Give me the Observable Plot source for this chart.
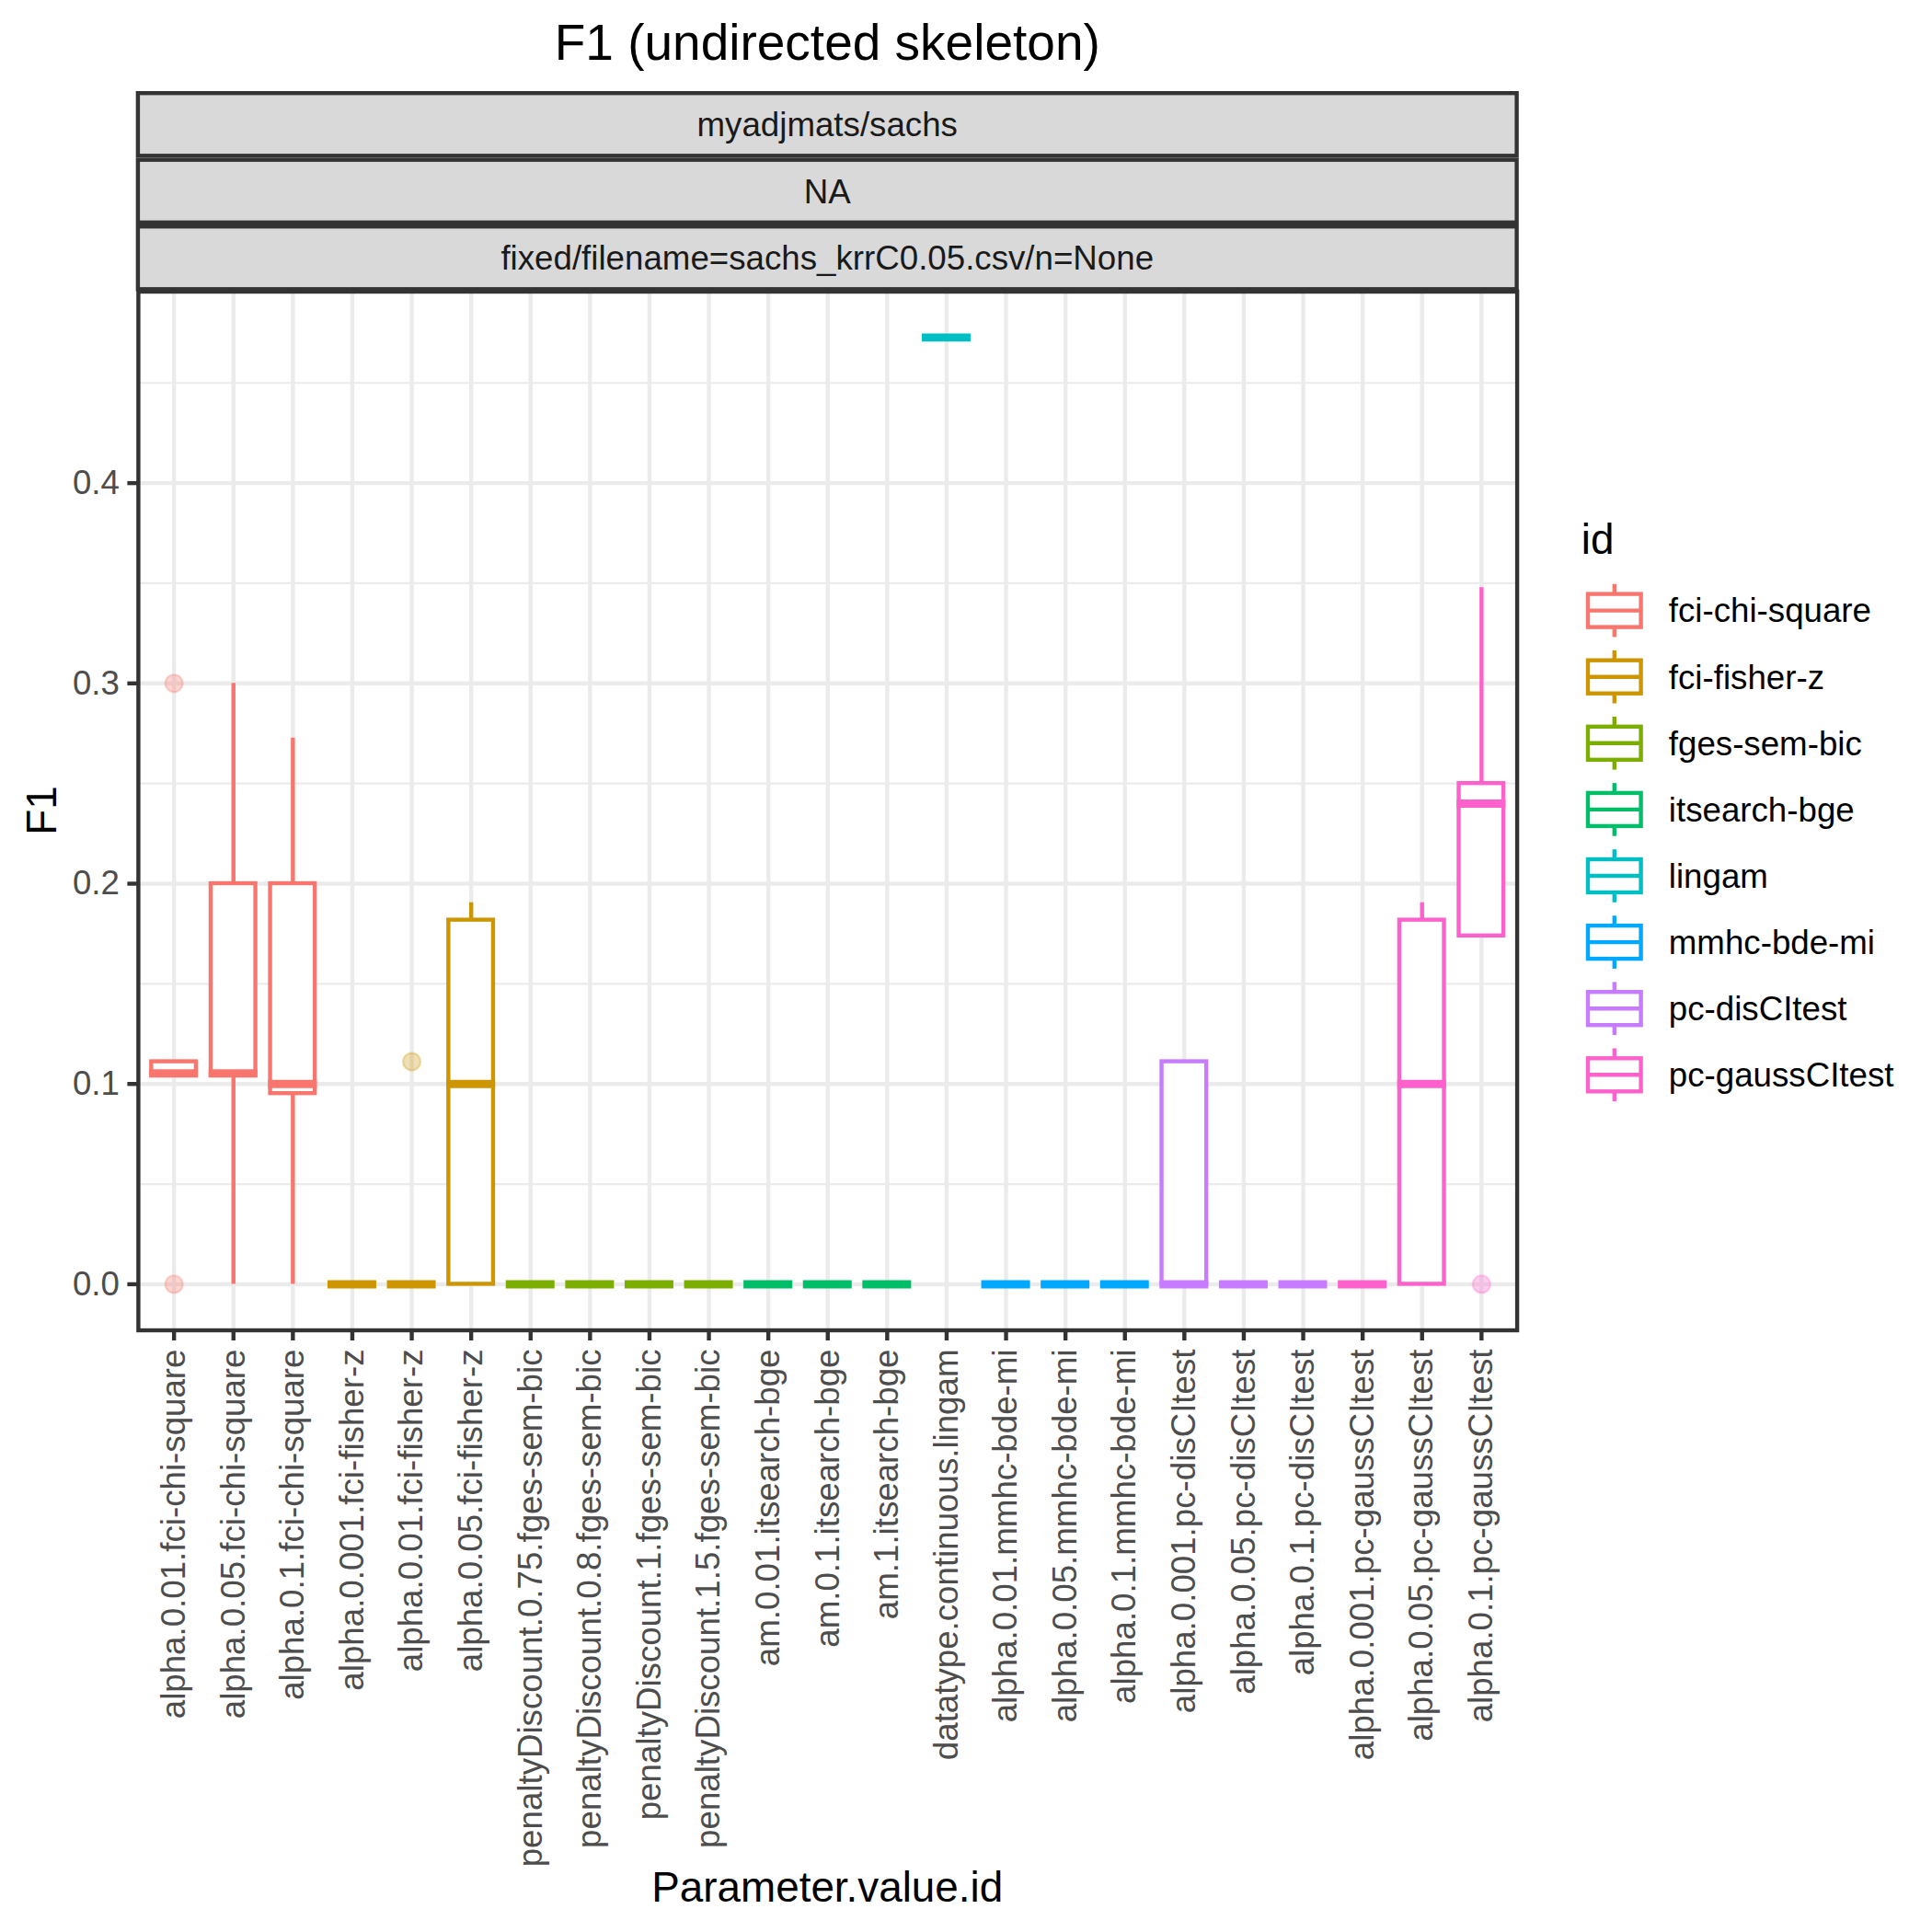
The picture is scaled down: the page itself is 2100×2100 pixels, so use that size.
<!DOCTYPE html>
<html>
<head>
<meta charset="utf-8">
<script src="https://cdn.jsdelivr.net/npm/d3@7"></script>
<script src="https://cdn.jsdelivr.net/npm/@observablehq/plot@0.6"></script>
<style>
  html, body { margin: 0; padding: 0; background: #ffffff; }
  #chart { width: 2100px; height: 2100px; }
</style>
</head>
<body>
<div id="chart"></div>
<script>
// ---------------- DATA ----------------
const params = [
  "alpha.0.01.fci-chi-square", "alpha.0.05.fci-chi-square", "alpha.0.1.fci-chi-square",
  "alpha.0.001.fci-fisher-z", "alpha.0.01.fci-fisher-z", "alpha.0.05.fci-fisher-z",
  "penaltyDiscount.0.75.fges-sem-bic", "penaltyDiscount.0.8.fges-sem-bic",
  "penaltyDiscount.1.fges-sem-bic", "penaltyDiscount.1.5.fges-sem-bic",
  "am.0.01.itsearch-bge", "am.0.1.itsearch-bge", "am.1.itsearch-bge",
  "datatype.continuous.lingam",
  "alpha.0.01.mmhc-bde-mi", "alpha.0.05.mmhc-bde-mi", "alpha.0.1.mmhc-bde-mi",
  "alpha.0.001.pc-disCItest", "alpha.0.05.pc-disCItest", "alpha.0.1.pc-disCItest",
  "alpha.0.001.pc-gaussCItest", "alpha.0.05.pc-gaussCItest", "alpha.0.1.pc-gaussCItest"
];
const paramIds = [
  "fci-chi-square", "fci-chi-square", "fci-chi-square",
  "fci-fisher-z", "fci-fisher-z", "fci-fisher-z",
  "fges-sem-bic", "fges-sem-bic", "fges-sem-bic", "fges-sem-bic",
  "itsearch-bge", "itsearch-bge", "itsearch-bge",
  "lingam",
  "mmhc-bde-mi", "mmhc-bde-mi", "mmhc-bde-mi",
  "pc-disCItest", "pc-disCItest", "pc-disCItest",
  "pc-gaussCItest", "pc-gaussCItest", "pc-gaussCItest"
];
const q1Values      = [0.1043, 0.1043, 0.0952, 0, 0, 0,      0, 0, 0, 0, 0, 0, 0, 0.4727, 0, 0, 0, 0,      0, 0, 0, 0,      0.1739];
const medianValues  = [0.1053, 0.1053, 0.1000, 0, 0, 0.1000, 0, 0, 0, 0, 0, 0, 0, 0.4727, 0, 0, 0, 0,      0, 0, 0, 0.1000, 0.2400];
const q3Values      = [0.1111, 0.2000, 0.2000, 0, 0, 0.1818, 0, 0, 0, 0, 0, 0, 0, 0.4727, 0, 0, 0, 0.1111, 0, 0, 0, 0.1818, 0.2500];
const whiskerLow    = [0.1043, 0,      0,      0, 0, 0,      0, 0, 0, 0, 0, 0, 0, 0.4727, 0, 0, 0, 0,      0, 0, 0, 0,      0.1739];
const whiskerHigh   = [0.1111, 0.3000, 0.2727, 0, 0, 0.1905, 0, 0, 0, 0, 0, 0, 0, 0.4727, 0, 0, 0, 0.1111, 0, 0, 0, 0.1905, 0.3478];

const outlierParams = ["alpha.0.01.fci-chi-square", "alpha.0.01.fci-chi-square", "alpha.0.01.fci-fisher-z", "alpha.0.1.pc-gaussCItest"];
const outlierValues = [0.3000, 0, 0.1111, 0];

const ids = ["fci-chi-square", "fci-fisher-z", "fges-sem-bic", "itsearch-bge", "lingam", "mmhc-bde-mi", "pc-disCItest", "pc-gaussCItest"];
const idColors = ["#F8766D", "#CD9600", "#7CAE00", "#00BE67", "#00BFC4", "#00A9FF", "#C77CFF", "#FF61CC"];

const yTicks = [0, 0.1, 0.2, 0.3, 0.4];
const yMinorTicks = [0.05, 0.15, 0.25, 0.35, 0.45];
const yDomain = [-0.0230, 0.4956];

const chartTitle = "F1 (undirected skeleton)";
const stripLabels = ["myadjmats/sachs", "NA", "fixed/filename=sachs_krrC0.05.csv/n=None"];
const xTitle = "Parameter.value.id";
const yTitle = "F1";
const legendTitle = "id";

// ---------------- TABLES ----------------
const stats = params.map((p, i) => ({
  param: p, id: paramIds[i],
  q1: q1Values[i], median: medianValues[i], q3: q3Values[i],
  lo: whiskerLow[i], hi: whiskerHigh[i]
}));
const outliers = outlierParams.map((p, i) => ({
  param: p, id: paramIds[params.indexOf(p)], value: outlierValues[i]
}));

// ---------------- LAYOUT ----------------
const W = 2100, H = 2100;
const panelLeft = 149.9, panelRight = 1648.6, panelTop = 316.5, panelBottom = 1445.5;
const stripTop = 99;
const font = "'Liberation Sans', Arial, Helvetica, sans-serif";
const lw = 4.4;
const boxInset = 8;

const plot = Plot.plot({
  width: W, height: H,
  marginLeft: panelLeft, marginRight: W - panelRight,
  marginTop: panelTop, marginBottom: H - panelBottom,
  style: { fontFamily: font, background: "white", overflow: "visible" },
  x: { type: "band", domain: params, paddingInner: 0, paddingOuter: 0.1, round: false, label: null },
  y: { domain: yDomain, label: null },
  color: { domain: ids, range: idColors },
  marks: [
    Plot.frame({ fill: "white", stroke: "none" }),
    Plot.gridY(yMinorTicks, { stroke: "#EBEBEB", strokeOpacity: 1, strokeWidth: 2.2 }),
    Plot.gridY(yTicks, { stroke: "#EBEBEB", strokeOpacity: 1, strokeWidth: 4.4 }),
    Plot.gridX(params, { stroke: "#EBEBEB", strokeOpacity: 1, strokeWidth: 4.4 }),
    Plot.ruleX(stats, { x: "param", y1: "q3", y2: "hi", stroke: "id", strokeWidth: lw }),
    Plot.ruleX(stats, { x: "param", y1: "lo", y2: "q1", stroke: "id", strokeWidth: lw }),
    Plot.barY(stats, { x: "param", y1: "q1", y2: "q3", fill: "white", stroke: "id", strokeWidth: lw, insetLeft: boxInset, insetRight: boxInset }),
    Plot.tickY(stats, { x: "param", y: "median", stroke: "id", strokeWidth: 8.9, insetLeft: boxInset - 2.2, insetRight: boxInset - 2.2 }),
    Plot.dot(outliers, { x: "param", y: "value", r: 9.5, fill: "id", fillOpacity: 0.3, stroke: "id", strokeOpacity: 0.3, strokeWidth: 2.2 }),
    Plot.frame({ stroke: "#333333", strokeWidth: lw, fill: "none" }),
    Plot.axisY(yTicks, { tickSize: 11.5, strokeWidth: lw, color: "#333333", tickFormat: () => "", label: null }),
    Plot.axisY(yTicks, { tickSize: 0, tickPadding: 20.5, color: "#4D4D4D", fontSize: 36.7, tickFormat: d3.format(".1f"), label: null }),
    Plot.axisX(params, { tickSize: 11.5, strokeWidth: lw, color: "#333333", tickFormat: () => "", label: null }),
    Plot.axisX(params, { tickSize: 0, tickPadding: 20.5, tickRotate: -90, color: "#4D4D4D", fontSize: 36.7, label: null })
  ]
});

document.getElementById("chart").appendChild(plot);

// ---------------- ANNOTATIONS (title, strips, axis titles, legend) ----------------
const svg = d3.select(plot);
const cx = (panelLeft + panelRight) / 2;

svg.append("text")
  .attr("x", cx).attr("y", 65)
  .attr("text-anchor", "middle")
  .attr("font-family", font).attr("font-size", 55).attr("fill", "#000")
  .text(chartTitle);

const stripH = (panelTop - stripTop) / stripLabels.length;
const strips = svg.append("g");
stripLabels.forEach((lab, i) => {
  const y0 = stripTop + i * stripH;
  strips.append("rect")
    .attr("x", panelLeft).attr("y", y0 + lw / 2)
    .attr("width", panelRight - panelLeft).attr("height", stripH - lw)
    .attr("fill", "#D9D9D9").attr("stroke", "#333333").attr("stroke-width", lw);
  strips.append("text")
    .attr("x", cx).attr("y", y0 + stripH / 2)
    .attr("dy", "0.35em")
    .attr("text-anchor", "middle")
    .attr("font-family", font).attr("font-size", 36.7).attr("fill", "#1A1A1A")
    .text(lab);
});

svg.append("text")
  .attr("x", cx).attr("y", 2067)
  .attr("text-anchor", "middle")
  .attr("font-family", font).attr("font-size", 45.8).attr("fill", "#000")
  .text(xTitle);

svg.append("text")
  .attr("transform", `translate(61,${(panelTop + panelBottom) / 2}) rotate(-90)`)
  .attr("text-anchor", "middle")
  .attr("font-family", font).attr("font-size", 45.8).attr("fill", "#000")
  .text(yTitle);

// legend
const keyLeft = 1718.8, keySize = 72, keyStep = 72.1, firstKeyTop = 627.6;
const legend = svg.append("g").attr("text-anchor", "start");
legend.append("text")
  .attr("x", keyLeft).attr("y", 602)
  .attr("text-anchor", "start")
  .attr("font-family", font).attr("font-size", 45.8).attr("fill", "#000")
  .text(legendTitle);
ids.forEach((id, i) => {
  const top = firstKeyTop + i * keyStep;
  const col = idColors[i];
  const g = legend.append("g");
  const xm = keyLeft + keySize / 2;
  g.append("line").attr("x1", xm).attr("x2", xm)
    .attr("y1", top + keySize * 0.1).attr("y2", top + keySize * 0.25)
    .attr("stroke", col).attr("stroke-width", lw);
  g.append("line").attr("x1", xm).attr("x2", xm)
    .attr("y1", top + keySize * 0.75).attr("y2", top + keySize * 0.9)
    .attr("stroke", col).attr("stroke-width", lw);
  g.append("rect")
    .attr("x", keyLeft + keySize * 0.1).attr("y", top + keySize * 0.25)
    .attr("width", keySize * 0.8).attr("height", keySize * 0.5)
    .attr("fill", "white").attr("stroke", col).attr("stroke-width", lw);
  g.append("line")
    .attr("x1", keyLeft + keySize * 0.1).attr("x2", keyLeft + keySize * 0.9)
    .attr("y1", top + keySize / 2).attr("y2", top + keySize / 2)
    .attr("stroke", col).attr("stroke-width", lw);
  g.append("text")
    .attr("x", keyLeft + keySize + 23).attr("y", top + keySize / 2)
    .attr("dy", "0.35em")
    .attr("text-anchor", "start")
    .attr("font-family", font).attr("font-size", 36.7).attr("fill", "#000")
    .text(id);
});
</script>
</body>
</html>
